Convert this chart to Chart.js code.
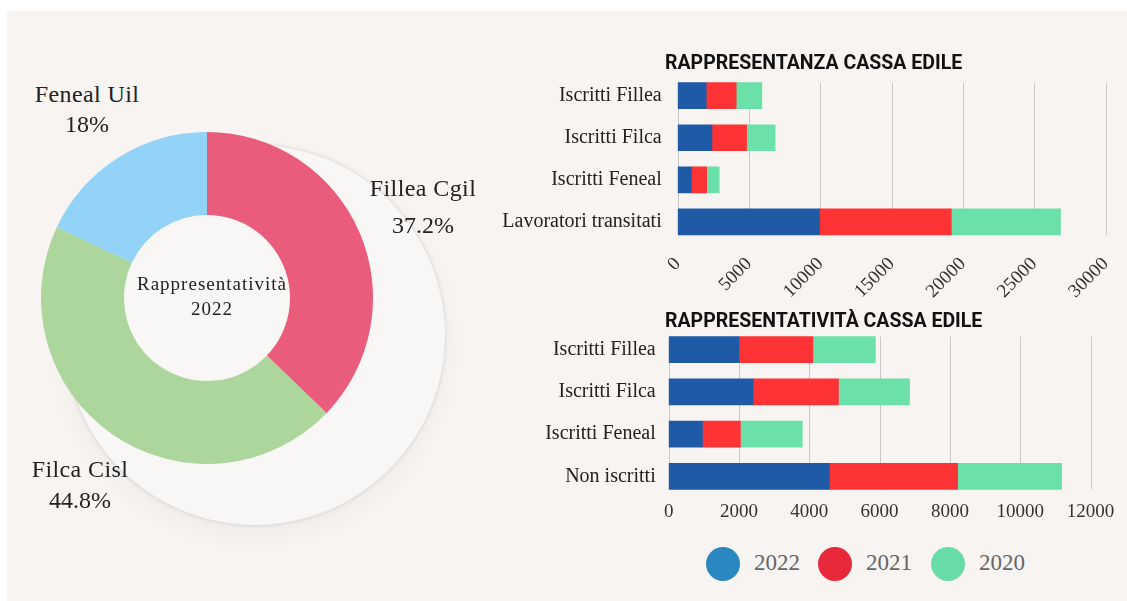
<!DOCTYPE html>
<html>
<head>
<meta charset="utf-8">
<script src="https://cdn.jsdelivr.net/npm/chart.js@4.4.1/dist/chart.umd.min.js"></script>
<style>
body{margin:0;width:1127px;height:601px;background:#fff;overflow:hidden;font-family:"Liberation Serif",serif;}
#bg{position:absolute;left:7px;top:11px;right:0;bottom:0;background:#f8f4f1;}
#halo{position:absolute;left:65px;top:145px;width:380px;height:380px;border-radius:50%;
  background:#f9f7f5;box-shadow:0 0 4px rgba(0,0,0,.15),0 10px 26px rgba(0,0,0,.04);}
canvas{position:absolute;}
.title{position:absolute;left:665px;font:700 19.5px Roboto,sans-serif;color:#111;white-space:nowrap;transform:translateY(-50%);}
.txt{position:absolute;transform:translate(-50%,-50%);white-space:nowrap;color:#222;}
.dot{position:absolute;width:34px;height:34px;border-radius:50%;transform:translate(-50%,-50%);}
</style>
</head>
<body>
<div id="bg"></div>
<div id="halo"></div>
<canvas id="pie" width="332" height="332" style="left:41px;top:132px"></canvas>
<canvas id="topBar" width="640" height="240" style="left:480px;top:70px"></canvas>
<canvas id="bottomBar" width="640" height="200" style="left:480px;top:325px"></canvas>
<div id="labels"></div>
<script>
// DATA
const years = ["2022", "2021", "2020"];
const barColors = ["#1f5aa7", "#fe3335", "#6be0a9"];
const legendColors = ["#2b87bf", "#e8283b", "#67dca7"];

const topTitle = "RAPPRESENTANZA CASSA EDILE";
const topCategories = ["Iscritti Fillea", "Iscritti Filca", "Iscritti Feneal", "Lavoratori transitati"];
const top2022 = [2000, 2400, 970, 9950];
const top2021 = [2100, 2430, 1060, 9230];
const top2020 = [1800, 2000, 880, 7660];
const topMax = 30000, topStep = 5000;

const bottomTitle = "RAPPRESENTATIVITÀ CASSA EDILE";
const bottomCategories = ["Iscritti Fillea", "Iscritti Filca", "Iscritti Feneal", "Non iscritti"];
const bottom2022 = [2000, 2400, 960, 4570];
const bottom2021 = [2100, 2430, 1080, 3650];
const bottom2020 = [1780, 2020, 1760, 2960];
const bottomMax = 12000, bottomStep = 2000;

const pieCenter = ["Rappresentatività", "2022"];
const pieLabels = ["Fillea Cgil", "Filca Cisl", "Feneal Uil"];
const pieValues = [37.2, 44.8, 18];
const pieColors = ["#ea5c7b", "#acd69b", "#93d3f8"];

// where the slice labels sit (name line, percent line)
const pieLabelPos = [
  [423, 188, 423, 225],
  [80, 469, 80, 500],
  [87, 94, 87, 124]
];

const serif = "'Liberation Serif', serif";
const labelsBox = document.getElementById("labels");

function addText(text, x, y, css){
  let d = document.createElement("div");
  d.className = "txt";
  d.textContent = text;
  d.style.left = x + "px";
  d.style.top = y + "px";
  d.style.cssText += css || "";
  labelsBox.appendChild(d);
  return d;
}

// gridlines only as tall as the bars
const shortGrid = {
  id: "shortGrid",
  beforeDatasetsDraw(chart){
    const {ctx, scales: {x}} = chart;
    const bars = chart.getDatasetMeta(0).data;
    const top = bars[0].y - bars[0].height / 2;
    const bottom = bars[bars.length - 1].y + bars[bars.length - 1].height / 2;
    ctx.save();
    ctx.strokeStyle = "#c8c8c8";
    ctx.lineWidth = 1;
    x.ticks.forEach(t => {
      let px = Math.round(x.getPixelForValue(t.value)) + 0.5;
      ctx.beginPath();
      ctx.moveTo(px, top);
      ctx.lineTo(px, bottom);
      ctx.stroke();
    });
    ctx.restore();
  }
};

function barChart(id, cats, series, max, step, opt){
  return new Chart(document.getElementById(id), {
    type: "bar",
    data: {
      labels: cats,
      datasets: series.map((d, i) => ({
        label: years[i], data: d, backgroundColor: barColors[i], barThickness: 26
      }))
    },
    options: {
      indexAxis: "y",
      responsive: false,
      animation: false,
      layout: {padding: opt.padding},
      plugins: {legend: {display: false}, tooltip: {enabled: false}},
      scales: {
        x: {
          stacked: true, min: 0, max: max,
          grid: {display: false, drawTicks: false}, border: {display: false},
          afterFit: s => { s.height = opt.xHeight; s.paddingLeft = 0; s.paddingRight = 0; },
          ticks: {
            stepSize: step, autoSkip: false,
            minRotation: opt.rot, maxRotation: opt.rot,
            color: "#333", font: {family: serif, size: opt.xFont},
            padding: opt.xPad,
            callback: v => String(v)
          }
        },
        y: {
          stacked: true,
          grid: {display: false, drawTicks: false}, border: {display: false},
          afterFit: s => { s.width = opt.yWidth; s.paddingTop = 0; s.paddingBottom = 0; },
          ticks: {color: "#222", font: {family: serif, size: 20}, padding: opt.yPad}
        }
      }
    },
    plugins: [shortGrid]
  });
}

barChart("topBar", topCategories, [top2022, top2021, top2020], topMax, topStep,
  {padding: {top: 4.6, right: 14.4, bottom: 0, left: 0}, xHeight: 67, yWidth: 197.7,
   yPad: 16, rot: 45, xFont: 19, xPad: 10});

barChart("bottomBar", bottomCategories, [bottom2022, bottom2021, bottom2020], bottomMax, bottomStep,
  {padding: {top: 3.6, right: 29.5, bottom: 0, left: 0}, xHeight: 27.6, yWidth: 188.7,
   yPad: 13, rot: 0, xFont: 19, xPad: 3});

// DOUGHNUT
new Chart(document.getElementById("pie"), {
  type: "doughnut",
  data: {
    labels: pieLabels,
    datasets: [{data: pieValues, backgroundColor: pieColors, borderWidth: 0}]
  },
  options: {
    responsive: false,
    animation: false,
    cutout: "50%",
    plugins: {legend: {display: false}, tooltip: {enabled: false}}
  }
});

// TEXT
function title(text, y){
  let d = document.createElement("div");
  d.className = "title";
  d.textContent = text;
  d.style.top = y + "px";
  labelsBox.appendChild(d);
}
title(topTitle, 62);
title(bottomTitle, 320);

pieLabels.forEach((l, i) => {
  let p = pieLabelPos[i];
  addText(l, p[0], p[1], "font-size:24px;letter-spacing:0.4px;");
  addText(pieValues[i] + "%", p[2], p[3], "font-size:24px;");
});
addText(pieCenter[0], 212, 284, "font-size:19px;letter-spacing:1px;");
addText(pieCenter[1], 212, 309, "font-size:19px;letter-spacing:1px;");

// LEGEND
const legendX = [723, 835, 948];
years.forEach((y, i) => {
  let dot = document.createElement("div");
  dot.className = "dot";
  dot.style.left = legendX[i] + "px";
  dot.style.top = "564px";
  dot.style.background = legendColors[i];
  labelsBox.appendChild(dot);
  addText(y, legendX[i] + 54, 563, "font-size:23px;color:#666;");
});
</script>
</body>
</html>
